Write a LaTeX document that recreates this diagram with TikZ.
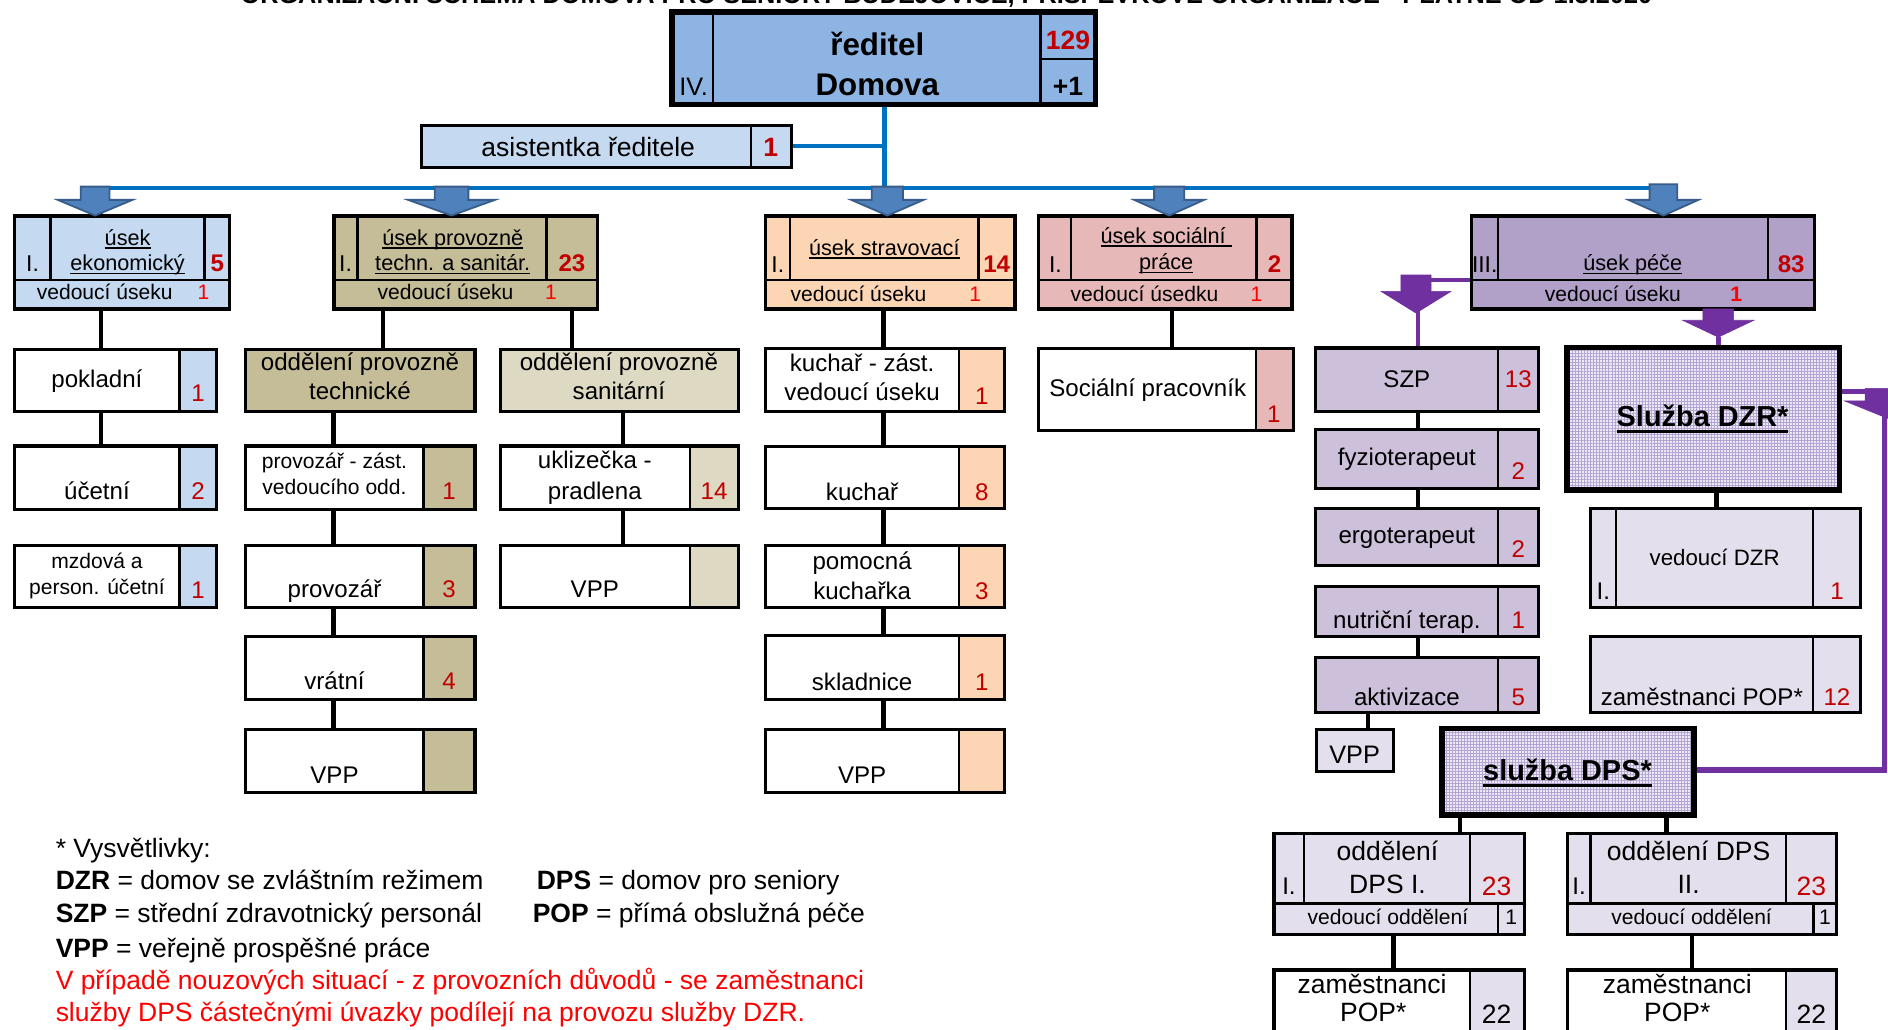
\documentclass[tikz,border=0pt]{standalone}
\usepackage{fontspec}
\setmainfont{Liberation Sans}
\usetikzlibrary{patterns,patterns.meta}
\definecolor{dirB}{HTML}{8DB4E2}
\definecolor{ltB}{HTML}{C5D9F1}
\definecolor{tanC}{HTML}{C4BD97}
\definecolor{ltTan}{HTML}{DDD9C3}
\definecolor{peach}{HTML}{FCD5B4}
\definecolor{pinkC}{HTML}{E6B9B8}
\definecolor{lavS}{HTML}{B1A0C7}
\definecolor{lavM}{HTML}{CCC0DA}
\definecolor{lavL}{HTML}{E4DFEC}
\definecolor{purp}{HTML}{7030A0}
\definecolor{blueL}{HTML}{0070C0}
\definecolor{arrF}{HTML}{4F81BD}
\definecolor{arrD}{HTML}{385D8A}
\definecolor{dred}{HTML}{C00000}
\definecolor{bred}{HTML}{FF0000}
\definecolor{patbg}{HTML}{ECE8F4}
\definecolor{patln}{HTML}{B4A4D2}
\pgfdeclarelayer{back}
\pgfdeclarelayer{bg}
\pgfsetlayers{back,bg,main}
\tikzdeclarepattern{
  name=mygrid,
  type=uncolored,
  bottom left={(-0.1pt,-0.1pt)},
  top right={(2.6pt,2.6pt)},
  tile size={(2.5pt,2.5pt)},
  code={
    \draw[line width=0.8pt] (0pt,1.25pt) -- (2.5pt,1.25pt) (1.25pt,0pt) -- (1.25pt,2.5pt);
  }
}
\newcommand\fs[1]{\fontsize{#1pt}{#1pt}\selectfont}
\newcommand\myul[1]{\setbox0=\hbox{#1}\rlap{\rule[-3pt]{\wd0}{1.2pt}}\box0}
\newcommand\myulb[1]{\setbox0=\hbox{#1}\rlap{\rule[-5.5pt]{\wd0}{2.4pt}}\box0}
\newcommand\cell[7][]{\pgfmathsetmacro\mycw{#5-#3}\pgfmathsetmacro\mych{#6-#4}%
  \node[cellb,fill=#7,minimum width=\mycw pt,minimum height=\mych pt,#1] (#2) at ({(#3+#5)/2},{(#4+#6)/2}) {};}
\newcommand\frm[6][]{\pgfmathsetmacro\mycw{#5-#3}\pgfmathsetmacro\mych{#6-#4}%
  \node[frame,minimum width=\mycw pt,minimum height=\mych pt,#1] (#2) at ({(#3+#5)/2},{(#4+#6)/2}) {};}
\newcommand\tx[5][]{\node[txt,#1] (#2) at (#3,#4) {#5};}
\newcommand\blk[7]{\filldraw[#1] ({#2-#4},#3) -- ({#2+#4},#3) -- ({#2+#4},#6) -- ({#2+#5},#6) -- (#2,#7) -- ({#2-#5},#6) -- ({#2-#4},#6) -- cycle;}
\tikzset{
  cellb/.style={rectangle,draw=black,line width=2pt,inner sep=0pt,outer sep=0pt},
  frame/.style={rectangle,draw=black,line width=2.6pt,inner sep=0pt,outer sep=0pt},
  txt/.style={anchor=base,inner sep=0pt,outer sep=0pt},
  f17/.style={font=\fs{17.5}},
  f18/.style={font=\fs{18}},
  f19/.style={font=\fs{19}},
  f20/.style={font=\fs{20}},
  f22/.style={font=\fs{22}},
  num/.style={font=\fs{20},text=dred},
  bnum/.style={font=\fs{20}\bfseries,text=dred},
  snum/.style={font=\fs{17.5},text=bred},
  conn/.style={draw=black,line width=3.5pt},
  bl/.style={draw=blueL,line width=3.5pt},
  pl/.style={draw=purp,line width=4pt},
  barrow/.style={fill=arrF,draw=arrD,line width=1.5pt},
  parrow/.style={fill=purp,draw=purp,line width=0.5pt},
  pat/.style={preaction={fill=patbg},pattern=mygrid,pattern color=patln,line width=4.5pt}
}
\begin{document}
\begin{tikzpicture}[x=1pt,y=-1pt]
\useasboundingbox (0,0) rectangle (1568,854.6);
\begin{pgfonlayer}{back}
\fill[white] (0,0) rectangle (1568,854.6);
\end{pgfonlayer}
% title (cut off at top, as in the reference)
\tx[font=\fs{21}\bfseries]{title}{786}{2.5}{ORGANIZAČNÍ SCHÉMA DOMOVA PRO SENIORY BUDĚJOVICE, PŘÍSPĚVKOVÉ ORGANIZACE - PLATNÉ OD 1.3.2020}
% column coordinates
\coordinate (busL) at (84,156);
\coordinate (busR) at (1383,156);
\coordinate (busM) at (734.5,156);
\coordinate (a1) at (84,156);
\coordinate (a2) at (372,156);
\coordinate (a3) at (734.5,156);
\coordinate (a4) at (973,156);
\coordinate (a5) at (1383,156);
\coordinate (cA) at (83.7,0);
\coordinate (cB) at (318,0);
\coordinate (cC) at (475,0);
\coordinate (cD) at (277,0);
\coordinate (cE) at (517.4,0);
\coordinate (cF) at (733.8,0);
\coordinate (cG) at (973.2,0);
\coordinate (cH) at (1177.7,0);
\coordinate (cI) at (1135.8,0);
\coordinate (cJ) at (1425.5,0);
\coordinate (cK) at (1212.7,0);
\coordinate (cL) at (1384,0);
\coordinate (cM) at (1157.3,0);
\coordinate (cN) at (1405,0);
\coordinate (pdz) at (1427,280);
\coordinate (pcA) at (1221.8,232.6);
\coordinate (pcB) at (1176,232.6);
\coordinate (p1tip) at (1177.7,258);
\coordinate (rt1) at (1565,325);
\coordinate (rt2) at (1565,639.5);

% ===== director =====
\cell{dirL}{558}{10}{592}{87}{dirB}
\cell{dirM}{592}{10}{864}{87}{dirB}
\cell{dirT}{864}{10}{910}{49}{dirB}
\cell{dirN}{864}{49}{910}{87}{dirB}
\frm[line width=4.5pt]{dir}{558}{10}{910}{87}
\tx[font=\fs{21}]{tIV}{576}{79}{IV.}
\tx[font=\fs{26}\bfseries]{tRed}{728.6}{45.7}{ředitel}
\tx[font=\fs{26}\bfseries]{tDom}{728.6}{79}{Domova}
\tx[font=\fs{22}\bfseries,text=dred]{t129}{887}{41.5}{129}
\tx[font=\fs{22}\bfseries]{tP1}{887}{79.5}{+1}

% ===== assistant =====
\cell{asA}{350}{104}{623.6}{139}{ltB}
\cell{asB}{623.6}{104}{657.5}{139}{ltB}
\frm{as}{350}{104}{657.5}{139}
\tx[f22]{tAs}{488.5}{129.6}{asistentka ředitele}
\tx[font=\fs{22}\bfseries,text=dred]{tAs1}{640}{129.6}{1}

% ===== sections =====
% 1 ekonomicky
\cell{e1}{11.7}{179.4}{42}{232.6}{ltB}
\cell{e2}{42}{179.4}{170}{232.6}{ltB}
\cell{e3}{170}{179.4}{190.6}{232.6}{ltB}
\cell{e4}{11.7}{232.6}{190.6}{256.6}{ltB}
\frm{sec1}{11.7}{179.4}{190.6}{256.6}
\tx[f19]{s1a}{27}{225.7}{I.}
\tx[f18]{s1b}{106}{203.5}{\myul{úsek}}
\tx[f18]{s1c}{106}{224.8}{\myul{ekonomický}}
\tx[bnum]{s1d}{180.5}{225.7}{5}
\tx[f17]{s1e}{87}{249}{vedoucí úseku}
\tx[snum]{s1f}{169}{249}{1}
% 2 provozne techn.
\cell{g1}{277.4}{179.4}{297}{232.6}{tanC}
\cell{g2}{297}{179.4}{454}{232.6}{tanC}
\cell{g3}{454}{179.4}{496}{232.6}{tanC}
\cell{g4}{277.4}{232.6}{496}{256.6}{tanC}
\frm{sec2}{277.4}{179.4}{496}{256.6}
\tx[f19]{s2a}{287}{225.7}{I.}
\tx[f18]{s2b}{376}{203.5}{\myul{úsek provozně}}
\tx[f18]{s2c}{376}{224.8}{\myul{techn. a sanitár.}}
\tx[bnum]{s2d}{475}{225.7}{23}
\tx[f17]{s2e}{370}{249}{vedoucí úseku}
\tx[snum]{s2f}{457.6}{249}{1}
% 3 stravovaci
\cell{h1}{635.4}{179.4}{656}{232.6}{peach}
\cell{h2}{656}{179.4}{812.6}{232.6}{peach}
\cell{h3}{812.6}{179.4}{843}{232.6}{peach}
\cell{h4}{635.4}{232.6}{843}{256.6}{peach}
\frm{sec3}{635.4}{179.4}{843}{256.6}
\tx[f19]{s3a}{646}{226}{I.}
\tx[f18]{s3b}{734.4}{212}{\myul{úsek stravovací}}
\tx[bnum]{s3d}{827.8}{226}{14}
\tx[f17]{s3e}{713}{250}{vedoucí úseku}
\tx[snum]{s3f}{810}{250}{1}
% 4 socialni
\cell{k1}{862.5}{179.4}{889.5}{232.6}{pinkC}
\cell{k2}{889.5}{179.4}{1043.5}{232.6}{pinkC}
\cell{k3}{1043.5}{179.4}{1073}{232.6}{pinkC}
\cell{k4}{862.5}{232.6}{1073}{256.6}{pinkC}
\frm{sec4}{862.5}{179.4}{1073}{256.6}
\tx[f19]{s4a}{876.5}{226}{I.}
\tx[f18]{s4b}{968.5}{202}{\myul{úsek sociální\ }}
\tx[f18]{s4c}{968.5}{224}{\myul{práce}}
\tx[bnum]{s4d}{1058.6}{226}{2}
\tx[f17]{s4e}{950.5}{250}{vedoucí úsedku}
\tx[snum]{s4f}{1043.6}{250}{1}
% 5 pece
\cell{m1}{1221.8}{179.4}{1244}{232.6}{lavS}
\cell{m2}{1244}{179.4}{1468.4}{232.6}{lavS}
\cell{m3}{1468.4}{179.4}{1506.6}{232.6}{lavS}
\cell{m4}{1221.8}{232.6}{1506.6}{256.6}{lavS}
\frm{sec5}{1221.8}{179.4}{1506.6}{256.6}
\tx[f19,anchor=base west]{s5a}{1222.5}{226}{III.}
\tx[f18]{s5b}{1356}{224.8}{\myul{úsek péče}}
\tx[bnum]{s5d}{1487.6}{226}{83}
\tx[f17]{s5e}{1339.5}{250}{vedoucí úseku}
\tx[font=\fs{17.5}\bfseries,text=bred]{s5f}{1442}{250}{1}

% ===== column 1 =====
\cell{pokA}{12}{290}{149}{341.4}{white}
\cell{pokB}{149}{290}{180}{341.4}{ltB}
\frm{pok}{12}{290}{180}{341.4}
\tx[f20]{u1}{80.5}{321.7}{pokladní}
\tx[num]{u2}{164.5}{333.6}{1}
\cell{ucA}{12}{370.4}{149}{422.8}{white}
\cell{ucB}{149}{370.4}{180}{422.8}{ltB}
\frm{uc}{12}{370.4}{180}{422.8}
\tx[f20]{u3}{80.5}{414.7}{účetní}
\tx[num]{u4}{164.5}{414.7}{2}
\cell{mzA}{12}{452.7}{149}{504.4}{white}
\cell{mzB}{149}{452.7}{180}{504.4}{ltB}
\frm{mz}{12}{452.7}{180}{504.4}
\tx[f17]{u5}{80.5}{472}{mzdová a}
\tx[f17]{u6}{80.5}{494}{person. účetní}
\tx[num]{u7}{164.5}{497}{1}

% ===== column 2/3 =====
\cell{techA}{204}{290}{394.5}{341.4}{tanC}
\frm{tech}{204}{290}{394.5}{341.4}
\tx[f20]{v1}{299}{307.9}{oddělení provozně}
\tx[f20]{v2}{299}{332}{technické}
\cell{saniA}{415.5}{290}{613}{341.4}{ltTan}
\frm{sani}{415.5}{290}{613}{341.4}
\tx[f20]{v3}{514}{307.9}{oddělení provozně}
\tx[f20]{v4}{514}{332}{sanitární}
\cell{pzA}{204}{370.4}{351.6}{422.8}{white}
\cell{pzB}{351.6}{370.4}{394.5}{422.8}{tanC}
\frm{pz}{204}{370.4}{394.5}{422.8}
\tx[f17]{v5}{277.8}{389}{provozář - zást.}
\tx[f17]{v6}{277.8}{411}{vedoucího odd.}
\tx[num]{v7}{373}{415}{1}
\cell{pvA}{204}{452.7}{351.6}{504.4}{white}
\cell{pvB}{351.6}{452.7}{394.5}{504.4}{tanC}
\frm{pv}{204}{452.7}{394.5}{504.4}
\tx[f20]{v8}{277.8}{496.4}{provozář}
\tx[num]{v9}{373}{496.4}{3}
\cell{vrA}{204}{528.8}{351.6}{580.6}{white}
\cell{vrB}{351.6}{528.8}{394.5}{580.6}{tanC}
\frm{vr}{204}{528.8}{394.5}{580.6}
\tx[f20]{v10}{277.8}{572.5}{vrátní}
\tx[num]{v11}{373}{572.5}{4}
\cell{vpaA}{204}{605.5}{351.6}{658}{white}
\cell{vpaB}{351.6}{605.5}{394.5}{658}{tanC}
\frm{vpa}{204}{605.5}{394.5}{658}
\tx[f20]{v12}{277.8}{650.6}{VPP}
\cell{ukA}{415.5}{370.4}{573}{422.8}{white}
\cell{ukB}{573}{370.4}{613}{422.8}{ltTan}
\frm{uk}{415.5}{370.4}{613}{422.8}
\tx[f20]{w1}{494}{389}{uklizečka -}
\tx[f20]{w2}{494}{414.7}{pradlena}
\tx[num]{w3}{593}{415}{14}
\cell{vpbA}{415.5}{452.7}{573}{504.4}{white}
\cell{vpbB}{573}{452.7}{613}{504.4}{ltTan}
\frm{vpb}{415.5}{452.7}{613}{504.4}
\tx[f20]{w4}{494}{496.4}{VPP}

% ===== column 4 =====
\cell{kzA}{635.4}{289.5}{796.6}{341.5}{white}
\cell{kzB}{796.6}{289.5}{834}{341.5}{peach}
\frm{kz}{635.4}{289.5}{834}{341.5}
\tx[f20]{x1}{716}{308.5}{kuchař - zást.}
\tx[f20]{x2}{716}{333}{vedoucí úseku}
\tx[num]{x3}{815.3}{335.6}{1}
\cell{kuA}{635.4}{370.5}{796.6}{422}{white}
\cell{kuB}{796.6}{370.5}{834}{422}{peach}
\frm{ku}{635.4}{370.5}{834}{422}
\tx[f20]{x4}{716}{415.6}{kuchař}
\tx[num]{x5}{815.3}{415.6}{8}
\cell{pkA}{635.4}{453}{796.6}{504.7}{white}
\cell{pkB}{796.6}{453}{834}{504.7}{peach}
\frm{pk}{635.4}{453}{834}{504.7}
\tx[f20]{x6}{716}{472.8}{pomocná}
\tx[f20]{x7}{716}{497.5}{kuchařka}
\tx[num]{x8}{815.3}{497.8}{3}
\cell{skA}{635.4}{528}{796.6}{581}{white}
\cell{skB}{796.6}{528}{834}{581}{peach}
\frm{sk}{635.4}{528}{834}{581}
\tx[f20]{x9}{716}{573.6}{skladnice}
\tx[num]{x10}{815.3}{573.6}{1}
\cell{vpcA}{635.4}{605.5}{796.6}{658}{white}
\cell{vpcB}{796.6}{605.5}{834}{658}{peach}
\frm{vpc}{635.4}{605.5}{834}{658}
\tx[f20]{x11}{716}{650.8}{VPP}

% ===== column 5 =====
\cell{spA}{862.5}{289.5}{1043}{357.8}{white}
\cell{spB}{1043}{289.5}{1074}{357.8}{pinkC}
\frm{sp}{862.5}{289.5}{1074}{357.8}
\tx[f20]{y1}{953.2}{328.9}{Sociální pracovník}
\tx[num]{y2}{1058}{350.5}{1}

% ===== column 6 : SZP list =====
\cell{szA}{1092.8}{289}{1244}{342}{lavM}
\cell{szB}{1244}{289}{1278}{342}{lavM}
\frm{szp}{1092.8}{289}{1278}{342}
\tx[f20]{z1}{1168.4}{322}{SZP}
\tx[num]{z2}{1261}{322}{13}
\cell{fyA}{1092.8}{357}{1244}{405.5}{lavM}
\cell{fyB}{1244}{357}{1278}{405.5}{lavM}
\frm{fyz}{1092.8}{357}{1278}{405.5}
\tx[f20]{z3}{1168.4}{387}{fyzioterapeut}
\tx[num]{z4}{1261}{398}{2}
\cell{erA}{1092.8}{422}{1244}{470}{lavM}
\cell{erB}{1244}{422}{1278}{470}{lavM}
\frm{erg}{1092.8}{422}{1278}{470}
\tx[f20]{z5}{1168.4}{451.6}{ergoterapeut}
\tx[num]{z6}{1261}{463}{2}
\cell{nuA}{1092.8}{487}{1244}{528.8}{lavM}
\cell{nuB}{1244}{487}{1278}{528.8}{lavM}
\frm{nut}{1092.8}{487}{1278}{528.8}
\tx[f20]{z7}{1168.4}{521.8}{nutriční terap.}
\tx[num]{z8}{1261}{521.8}{1}
\cell{akA}{1092.8}{545.8}{1244}{591.4}{lavM}
\cell{akB}{1244}{545.8}{1278}{591.4}{lavM}
\frm{akt}{1092.8}{545.8}{1278}{591.4}
\tx[f20]{z9}{1168.4}{585.5}{aktivizace}
\tx[num]{z10}{1261}{585.5}{5}
\cell{vpdA}{1093}{605.7}{1157}{641}{lavL}
\frm{vpd}{1093}{605.7}{1157}{641}
\tx[font=\fs{21}]{z11}{1125}{634}{VPP}

% ===== DZR =====
\frm[pat]{dzr}{1301.5}{288.5}{1527.5}{407}
\tx[font=\fs{24}\bfseries]{d1}{1414}{354.4}{\myulb{Služba DZR*}}
\cell{vdA}{1321}{422}{1342}{504.7}{lavL}
\cell{vdB}{1342}{422}{1505.8}{504.7}{lavL}
\cell{vdC}{1505.8}{422}{1545.4}{504.7}{lavL}
\frm{vdzr}{1321}{422}{1545.4}{504.7}
\tx[f20]{d2}{1331.5}{497.6}{I.}
\tx[font=\fs{18.5}]{d3}{1424}{469.8}{vedoucí DZR}
\tx[num]{d4}{1525.6}{497.6}{1}
\cell{zpA}{1321}{528.8}{1505.8}{591.4}{lavL}
\cell{zpB}{1505.8}{528.8}{1545.4}{591.4}{lavL}
\frm{zpop}{1321}{528.8}{1545.4}{591.4}
\tx[f20]{d5}{1413.4}{585.5}{zaměstnanci POP*}
\tx[num]{d6}{1525.6}{585.5}{12}

% ===== DPS =====
\frm[pat]{dps}{1197.6}{605}{1406.7}{677}
\tx[font=\fs{24}\bfseries]{e1t}{1301.8}{648}{\myulb{služba DPS*}}
% odd. I
\cell{o1a}{1058}{692}{1083}{750.3}{lavL}
\cell{o1b}{1083}{692}{1221}{750.3}{lavL}
\cell{o1c}{1221}{692}{1265.8}{750.3}{lavL}
\cell{o1d}{1058}{750.3}{1244}{776}{lavL}
\cell{o1e}{1244}{750.3}{1265.8}{776}{lavL}
\frm{o1}{1058}{692}{1265.8}{776}
\tx[f20]{q1}{1070.5}{743}{I.}
\tx[f22]{q2}{1152.3}{714.3}{oddělení}
\tx[f22]{q3}{1152.3}{742}{DPS I.}
\tx[font=\fs{22},text=dred]{q4}{1243}{744}{23}
\tx[f17]{q5}{1152.7}{767.5}{vedoucí oddělení}
\tx[f17]{q6}{1255}{767.5}{1}
% odd. II
\cell{o2a}{1302}{692}{1320.8}{750.3}{lavL}
\cell{o2b}{1320.8}{692}{1483.2}{750.3}{lavL}
\cell{o2c}{1483.2}{692}{1525.5}{750.3}{lavL}
\cell{o2d}{1302}{750.3}{1506}{776}{lavL}
\cell{o2e}{1506}{750.3}{1525.5}{776}{lavL}
\frm{o2}{1302}{692}{1525.5}{776}
\tx[f20]{r1}{1311.4}{743}{I.}
\tx[f22]{r2}{1402.4}{714.3}{oddělení DPS}
\tx[f22]{r3}{1402.4}{742}{II.}
\tx[font=\fs{22},text=dred]{r4}{1504.4}{744}{23}
\tx[f17]{r5}{1404.9}{767.5}{vedoucí oddělení}
\tx[f17]{r6}{1515.7}{767.5}{1}
% zamestnanci
\cell{z1A}{1058}{805.6}{1221}{875}{white}
\cell{z1B}{1221}{805.6}{1265.8}{875}{lavL}
\frm{zp1}{1058}{805.6}{1265.8}{875}
\tx[f22]{q7}{1139.5}{825}{zaměstnanci}
\tx[f22]{q8}{1140.5}{848.6}{POP*}
\tx[f22]{q9}{1243}{849.6}{22}
\cell{z2A}{1302}{805.6}{1483.2}{875}{white}
\cell{z2B}{1483.2}{805.6}{1525.5}{875}{lavL}
\frm{zp2}{1302}{805.6}{1525.5}{875}
\tx[f22]{r7}{1393}{825}{zaměstnanci}
\tx[f22]{r8}{1393}{848.6}{POP*}
\tx[f22]{r9}{1504.4}{849.6}{22}

% ===== legend =====
\tx[f22,anchor=base west]{l1}{46.3}{712}{* Vysvětlivky:}
\tx[f22,anchor=base west]{l2}{46.3}{739}{\textbf{DZR} = domov se zvláštním režimem}
\tx[f22,anchor=base west]{l3}{445.8}{739}{\textbf{DPS} = domov pro seniory}
\tx[f22,anchor=base west]{l4}{46.3}{766.5}{\textbf{SZP} = střední zdravotnický personál}
\tx[f22,anchor=base west]{l5}{442.5}{766.5}{\textbf{POP} = přímá obslužná péče}
\tx[f22,anchor=base west]{l6}{46.3}{795}{\textbf{VPP} = veřejně prospěšné práce}
\tx[f22,anchor=base west,text=bred]{l7}{46.3}{822}{V případě nouzových situací - z provozních důvodů - se zaměstnanci}
\tx[f22,anchor=base west,text=bred]{l8}{46.3}{848.5}{služby DPS částečnými úvazky podílejí na provozu služby DZR.}

% ===== connectors =====
\begin{pgfonlayer}{bg}
\draw[bl] (dir.south -| busM) -- (busM);
\draw[bl] (as.east) -- (as.east -| busM);
\draw[bl] (busL) -- (busR);
\draw[bl] (a1) -- (sec1.north -| a1);
\draw[bl] (a2) -- (sec2.north -| a2);
\draw[bl] (a3) -- (sec3.north -| a3);
\draw[bl] (a4) -- (sec4.north -| a4);
\draw[bl] (a5) -- (sec5.north -| a5);
% column 1
\draw[conn] (sec1.south -| cA) -- (pok.north -| cA);
\draw[conn] (pok.south -| cA) -- (uc.north -| cA);
% column 2/3
\draw[conn] (sec2.south -| cB) -- (tech.north -| cB);
\draw[conn] (sec2.south -| cC) -- (sani.north -| cC);
\draw[conn] (tech.south -| cD) -- (pz.north -| cD);
\draw[conn] (pz.south -| cD) -- (pv.north -| cD);
\draw[conn] (pv.south -| cD) -- (vr.north -| cD);
\draw[conn] (vr.south -| cD) -- (vpa.north -| cD);
\draw[conn] (sani.south -| cE) -- (uk.north -| cE);
\draw[conn] (uk.south -| cE) -- (vpb.north -| cE);
% column 4
\draw[conn] (sec3.south -| cF) -- (kz.north -| cF);
\draw[conn] (kz.south -| cF) -- (ku.north -| cF);
\draw[conn] (ku.south -| cF) -- (pk.north -| cF);
\draw[conn] (pk.south -| cF) -- (sk.north -| cF);
\draw[conn] (sk.south -| cF) -- (vpc.north -| cF);
% column 5
\draw[conn] (sec4.south -| cG) -- (sp.north -| cG);
% column 6
\draw[conn] (szp.south -| cH) -- (fyz.north -| cH);
\draw[conn] (fyz.south -| cH) -- (erg.north -| cH);
\draw[conn] (nut.south -| cH) -- (akt.north -| cH);
\draw[conn] (akt.south -| cI) -- (vpd.north -| cI);
\draw[conn] (dzr.south -| cJ) -- (vdzr.north -| cJ);
\draw[conn] (dps.south -| cK) -- (o1.north -| cK);
\draw[conn] (dps.south -| cL) -- (o2.north -| cL);
\draw[conn] (o1.south -| cM) -- (zp1.north -| cM);
\draw[conn] (o2.south -| cN) -- (zp2.north -| cN);
% purple
\draw[pl,line width=3.5pt] (pcA) -- (pcB);
\draw[pl] (p1tip) -- (szp.north -| p1tip);
\draw[pl] (pdz) -- (dzr.north -| pdz);
\draw[pl,line width=4.5pt] (dzr.east |- rt1) -- (rt1) -- (rt2) -- (dps.east |- rt2);
\end{pgfonlayer}

% ===== block arrows =====
\blk{barrow}{79}{155}{12}{31}{166}{179}
\blk{barrow}{375}{155}{14}{36}{166}{179}
\blk{barrow}{737}{155}{13}{30}{166}{179}
\blk{barrow}{971}{155}{12.5}{29}{166}{179}
\blk{barrow}{1381.5}{153}{11.5}{29}{166}{179}
\blk{parrow}{1176}{228.4}{12.5}{29}{242}{260}
\blk{parrow}{1427}{256.6}{12.8}{29.5}{266}{280}
\blk{parrow}{1574}{322.5}{25}{42}{333}{350}
\end{tikzpicture}
\end{document}
